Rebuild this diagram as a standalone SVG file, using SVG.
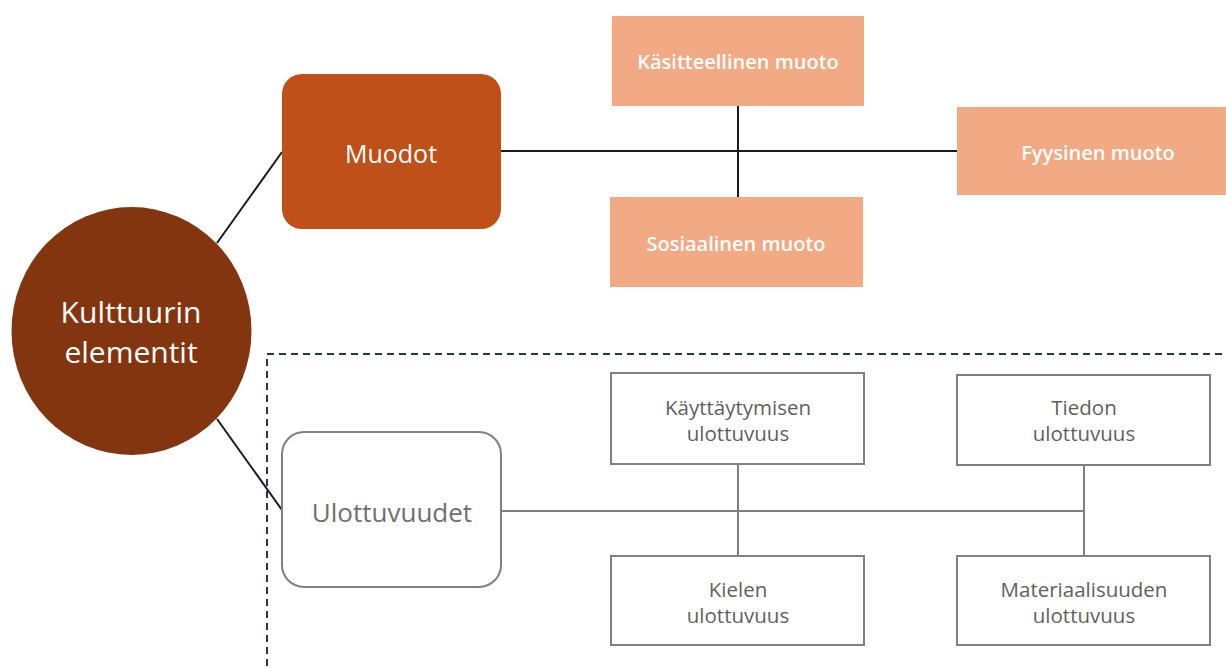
<svg xmlns="http://www.w3.org/2000/svg" width="1226" height="668" viewBox="0 0 1226 668">
<style>
text{font-family:"Open Sans","Liberation Sans",sans-serif;text-anchor:middle}
.peach{fill:#F1AA84}
.peachT{fill:#ffffff;font-size:20px;font-weight:600}
.gbox{fill:#ffffff;stroke:#808080;stroke-width:2}
.gT{fill:#5f5f5f;font-size:20.5px}
.dark{stroke:#1a1a1a;stroke-width:2;fill:none}
.gray{stroke:#808080;stroke-width:2;fill:none}
</style>
<rect width="1226" height="668" fill="#ffffff"/>
<rect id="group-frame" x="267" y="354" width="980" height="340" fill="none" stroke="#1F3A4D" stroke-width="2" stroke-dasharray="7,5"/>
<g id="connectors">
<line class="dark" x1="217" y1="243" x2="282" y2="152"/>
<line class="dark" x1="217" y1="419" x2="282" y2="510"/>
<line class="dark" x1="501" y1="151" x2="957" y2="151"/>
<line class="dark" x1="738" y1="106" x2="738" y2="197"/>
<line class="gray" x1="501" y1="511" x2="1084" y2="511"/>
<line class="gray" x1="738" y1="464" x2="738" y2="556"/>
<line class="gray" x1="1084" y1="465" x2="1084" y2="556"/>
</g>
<g id="kulttuurin">
<ellipse cx="131.5" cy="331" rx="120" ry="124" fill="#833510"/>
<text x="131" y="323" fill="#ffffff" font-size="30" font-weight="500">Kulttuurin</text>
<text x="131" y="363" fill="#ffffff" font-size="30" font-weight="500">elementit</text>
</g>
<g id="muodot">
<rect x="282" y="74" width="219" height="155" rx="20" fill="#C0501A"/>
<text x="391" y="163" fill="#ffffff" font-size="25" font-weight="500">Muodot</text>
</g>
<g id="kasitteellinen">
<rect class="peach" x="612" y="16" width="252" height="90"/>
<text class="peachT" x="738" y="69">Käsitteellinen muoto</text>
</g>
<g id="fyysinen">
<rect class="peach" x="957" y="107" width="269" height="88"/>
<text class="peachT" x="1098" y="160">Fyysinen muoto</text>
</g>
<g id="sosiaalinen">
<rect class="peach" x="610" y="197" width="253" height="90"/>
<text class="peachT" x="736" y="251">Sosiaalinen muoto</text>
</g>
<g id="ulottuvuudet">
<rect class="gbox" x="282" y="432" width="219" height="155" rx="22"/>
<text x="392" y="522" fill="#6f6f6f" font-size="26">Ulottuvuudet</text>
</g>
<g id="kayttaytymisen">
<rect class="gbox" x="611" y="373" width="253" height="91"/>
<text class="gT" x="738" y="415">Käyttäytymisen</text>
<text class="gT" x="738" y="441">ulottuvuus</text>
</g>
<g id="tiedon">
<rect class="gbox" x="957" y="375" width="253" height="90"/>
<text class="gT" x="1084" y="415">Tiedon</text>
<text class="gT" x="1084" y="441">ulottuvuus</text>
</g>
<g id="kielen">
<rect class="gbox" x="611" y="556" width="253" height="89"/>
<text class="gT" x="738" y="597">Kielen</text>
<text class="gT" x="738" y="623">ulottuvuus</text>
</g>
<g id="materiaalisuuden">
<rect class="gbox" x="957" y="556" width="253" height="89"/>
<text class="gT" x="1084" y="597">Materiaalisuuden</text>
<text class="gT" x="1084" y="623">ulottuvuus</text>
</g>
</svg>
